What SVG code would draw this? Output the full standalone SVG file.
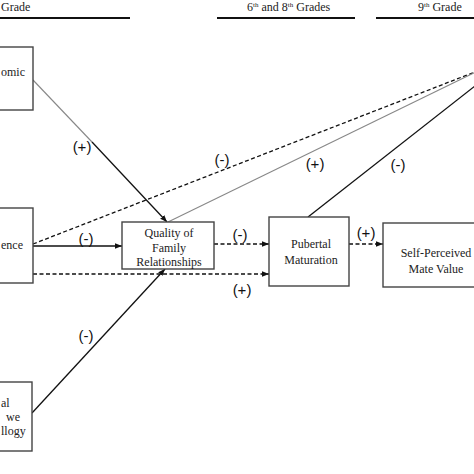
<svg xmlns="http://www.w3.org/2000/svg" width="474" height="474" viewBox="0 0 474 474">
<style>
.box{fill:#fff;stroke:#444;stroke-width:1.4}
.t{font-family:"Liberation Serif","Times New Roman",serif;font-size:12px;fill:#222}
.lbl{font-family:"Liberation Sans",Arial,sans-serif;font-size:15px;fill:#111;text-anchor:middle}
.hd{font-family:"Liberation Serif","Times New Roman",serif;font-size:12px;fill:#222}
.sup{font-size:7px}
.rule{stroke:#111;stroke-width:2}
.s{stroke:#111;stroke-width:1.3;fill:none}
.d{stroke:#111;stroke-width:1.3;fill:none;stroke-dasharray:4 2.5}
.g{stroke:#888;stroke-width:1.1;fill:none}
</style>
<defs>
<marker id="ah" viewBox="0 0 10 10" refX="10" refY="5" markerWidth="7" markerHeight="7" markerUnits="userSpaceOnUse" orient="auto">
<path d="M0,1 L10,5 L0,9 z" fill="#111"/>
</marker>
</defs>
<rect width="474" height="474" fill="#fff"/>
<g id="headings">
<text class="hd" x="1" y="11">Grade</text>
<line class="rule" x1="0" y1="18" x2="130" y2="18"/>
<text class="hd" x="247" y="11">6<tspan class="sup" dy="-4">th</tspan><tspan dy="4"> and 8</tspan><tspan class="sup" dy="-4">th</tspan><tspan dy="4"> Grades</tspan></text>
<line class="rule" x1="217" y1="18" x2="355" y2="18"/>
<text class="hd" x="418" y="11">9<tspan class="sup" dy="-4">th</tspan><tspan dy="4">  Grade</tspan></text>
<line class="rule" x1="376" y1="18" x2="474" y2="18"/>
</g>
<g id="connectors">
<line class="g" x1="33" y1="80" x2="92" y2="142"/>
<line class="s" x1="92" y1="142" x2="167" y2="222" marker-end="url(#ah)"/>
<line class="s" x1="33" y1="246" x2="122" y2="246" marker-end="url(#ah)"/>
<line class="d" x1="33" y1="244" x2="480" y2="70"/>
<line class="d" x1="33" y1="274" x2="269" y2="274" marker-end="url(#ah)"/>
<line class="s" x1="32" y1="413" x2="165" y2="269" marker-end="url(#ah)"/>
<line class="d" x1="214" y1="244" x2="269" y2="244" marker-end="url(#ah)"/>
<line class="g" x1="168" y1="222" x2="480" y2="70"/>
<line class="s" x1="308" y1="217" x2="480" y2="82"/>
<line class="d" x1="349" y1="244" x2="383" y2="244" marker-end="url(#ah)"/>
<text class="lbl" x="82" y="152">(+)</text>
<text class="lbl" x="86" y="244">(-)</text>
<text class="lbl" x="222" y="165">(-)</text>
<text class="lbl" x="315" y="169">(+)</text>
<text class="lbl" x="398" y="170">(-)</text>
<text class="lbl" x="240" y="240">(-)</text>
<text class="lbl" x="242" y="295">(+)</text>
<text class="lbl" x="366" y="238">(+)</text>
<text class="lbl" x="86" y="341">(-)</text>
</g>
<g id="node-socioeconomic">
<rect class="box" x="-20" y="47" width="53" height="63"/>
<text class="t" x="1" y="76">omic</text>
</g>
<g id="node-ence">
<rect class="box" x="-20" y="208" width="53" height="75"/>
<text class="t" x="1" y="249">ence</text>
</g>
<g id="node-psychopathology">
<rect class="box" x="-20" y="382" width="52" height="69"/>
<text class="t" x="1" y="407">al</text>
<text class="t" x="20" y="421" text-anchor="end">we</text>
<text class="t" x="1" y="435">llogy</text>
</g>
<g id="node-quality">
<rect class="box" x="122" y="222" width="92" height="47"/>
<text class="t" x="169" y="237" text-anchor="middle">Quality of</text>
<text class="t" x="169" y="252" text-anchor="middle">Family</text>
<text class="t" x="169" y="266" text-anchor="middle">Relationships</text>
</g>
<g id="node-pubertal">
<rect class="box" x="269" y="217" width="80" height="69"/>
<text class="t" x="311" y="248" text-anchor="middle">Pubertal</text>
<text class="t" x="311" y="264" text-anchor="middle">Maturation</text>
</g>
<g id="node-mate-value">
<rect class="box" x="383" y="223" width="107" height="64"/>
<text class="t" x="436" y="257" text-anchor="middle">Self-Perceived</text>
<text class="t" x="436" y="273" text-anchor="middle">Mate Value</text>
</g>
</svg>
